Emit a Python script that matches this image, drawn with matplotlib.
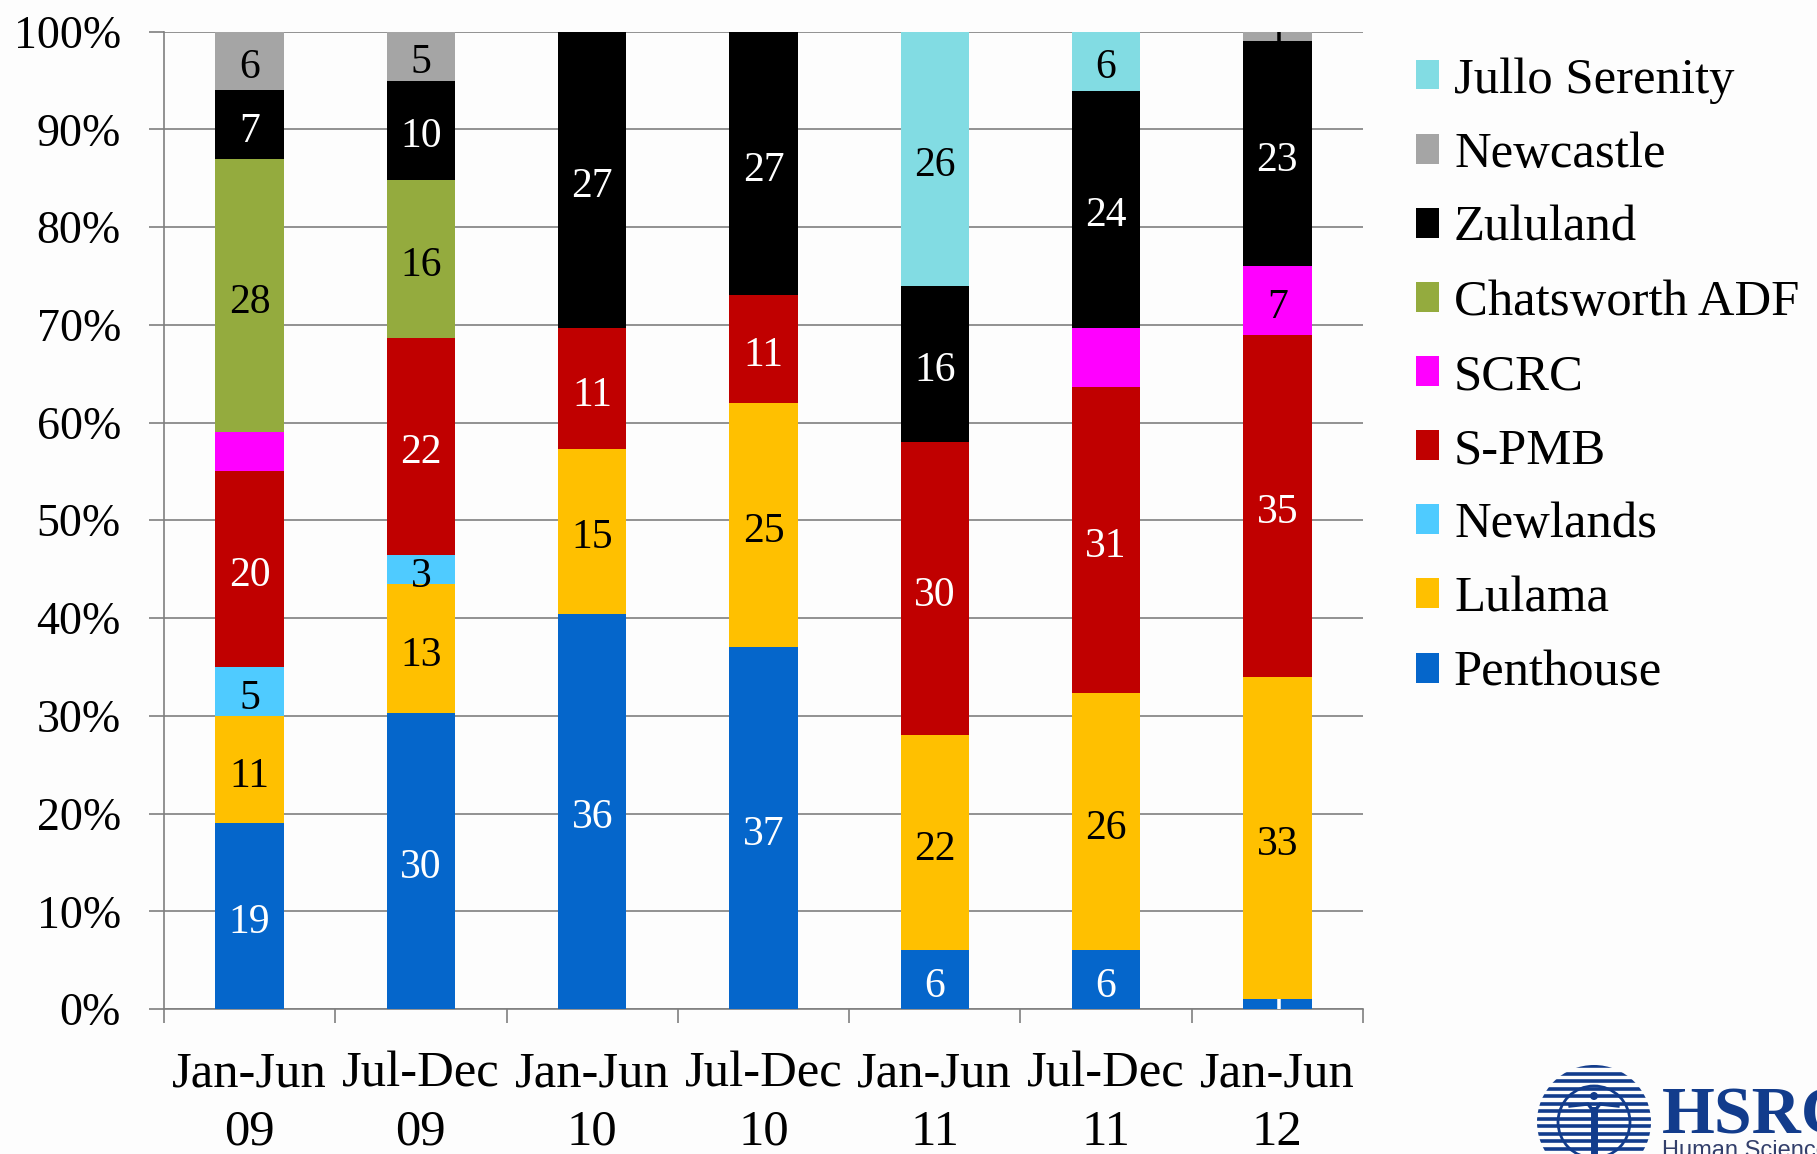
import numpy as np
import matplotlib
matplotlib.use("Agg")
import matplotlib.pyplot as plt
from matplotlib.patches import Circle

plt.rcParams['font.family'] = ['Liberation Serif', 'DejaVu Serif']

W, H = 1817, 1154
BG = '#fdfdfd'

periods = ['Jan-Jun\n09', 'Jul-Dec\n09', 'Jan-Jun\n10', 'Jul-Dec\n10', 'Jan-Jun\n11', 'Jul-Dec\n11', 'Jan-Jun\n12']

# bottom to top, as stacked
names = ['Penthouse', 'Lulama', 'Newlands', 'S-PMB', 'SCRC', 'Chatsworth ADF', 'Zululand', 'Newcastle', 'Jullo Serenity']
penthouse = [19, 30, 36, 37, 6, 6, 1]
lulama = [11, 13, 15, 25, 22, 26, 33]
newlands = [5, 3, 0, 0, 0, 0, 0]
spmb = [20, 22, 11, 11, 30, 31, 35]
scrc = [4, 0, 0, 0, 0, 6, 7]
chatsworth = [28, 16, 0, 0, 0, 0, 0]
zululand = [7, 10, 27, 27, 16, 24, 23]
newcastle = [6, 5, 0, 0, 0, 0, 1]
jullo = [0, 0, 0, 0, 26, 6, 0]

series = [penthouse, lulama, newlands, spmb, scrc, chatsworth, zululand, newcastle, jullo]
colors = ['#0566cb', '#ffc000', '#4fcbff', '#c00000', '#ff00ff', '#94ab3e', '#000000', '#a5a5a5', '#82dce3']
text_colors = ['white', 'black', 'black', 'white', 'black', 'black', 'white', 'black', 'black']
# the two small SCRC segments in the 2009 and 2011 columns carry no number
no_label = {('SCRC', 0), ('SCRC', 5)}

fig = plt.figure(figsize=(W / 100, H / 100), dpi=100, facecolor=BG)
ax = fig.add_axes([164 / W, 1 - 1009 / H, (1363 - 164) / W, (1009 - 31.5) / H], facecolor=BG)

data = np.array(series, dtype=float)
totals = data.sum(axis=0)
pct = data / totals * 100
x = np.arange(len(periods))
bottom = np.zeros(len(periods))

# later series sit on top of earlier labels, that is how the "5" and "1" get cut off
for i, name in enumerate(names):
    ax.bar(x, pct[i], 0.4, bottom=bottom, color=colors[i], label=name, zorder=3 + i)
    for j in x:
        if data[i][j] > 0 and (name, j) not in no_label:
            ax.annotate(str(int(data[i][j])), (j, bottom[j] + pct[i][j] / 2), xytext=(0, -5),
                        textcoords='offset points', ha='center', va='center',
                        color=text_colors[i], fontsize=30, zorder=3 + i, clip_on=True)
    bottom += pct[i]

ax.set_xlim(-0.5, len(periods) - 0.5)
ax.set_ylim(0, 100)

grey = '#7f7f7f'
ax.set_yticks(np.arange(0, 101, 10))
ax.set_yticklabels([f'{v}%' for v in range(0, 101, 10)], fontsize=33)
ax.set_xticks(np.arange(len(periods) + 1) - 0.5)
ax.set_xticklabels([])
ax.set_xticks(x, minor=True)
ax.set_xticklabels(periods, minor=True, fontsize=36.5, linespacing=1.34)
ax.tick_params(axis='y', length=11, width=1.2, color=grey, pad=20)
ax.tick_params(axis='x', which='major', length=10, width=1.2, color=grey)
ax.tick_params(axis='x', which='minor', length=0, pad=30)
ax.grid(axis='y', color=grey, lw=1.2, zorder=1)
ax.set_axisbelow(True)
for s in ['top', 'right']:
    ax.spines[s].set_visible(False)
for s in ['left', 'bottom']:
    ax.spines[s].set_color(grey)
    ax.spines[s].set_linewidth(1.2)

handles, labels = ax.get_legend_handles_labels()
fig.legend(handles[::-1], labels[::-1], loc='upper left', bbox_to_anchor=(1416 / W, 1 - 57 / H),
           frameon=False, fontsize=36.5, handlelength=0.45, handleheight=0.53, handletextpad=0.3,
           labelspacing=0.545, borderpad=0, borderaxespad=0)

# HSRC logo, bottom right corner
navy = '#123c8c'
logo = fig.add_axes([1520 / W, 0, (W - 1520) / W, (H - 1050) / H], facecolor=BG)
logo.set_xlim(1520, W)
logo.set_ylim(H, 1050)
logo.axis('off')
ring = Circle((1594, 1122), 57, transform=logo.transData, fc='none', ec='none')
logo.add_patch(ring)
for yy in np.arange(1066, 1154, 7.5):
    ln, = logo.plot([1530, 1660], [yy, yy], color=navy, lw=2.6, solid_capstyle='butt')
    ln.set_clip_path(ring)
logo.add_patch(Circle((1594, 1122), 36, fc='white', ec=navy, lw=2))
logo.plot([1570, 1588, 1594, 1600, 1618], [1106, 1104, 1112, 1104, 1106], color=navy, lw=2.4)
logo.plot([1594, 1594], [1110, 1154], color=navy, lw=5)
logo.add_patch(Circle((1594, 1096), 4, fc=navy, ec='none'))
logo.text(1662, 1133, 'HSRC', color=navy, fontsize=49, fontweight='bold', va='baseline', ha='left')
logo.text(1662, 1157, 'Human Sciences', color='#333f6b', fontsize=17, family='Liberation Sans',
          va='baseline', ha='left')

fig.savefig('out.png', dpi=100, facecolor=BG)
